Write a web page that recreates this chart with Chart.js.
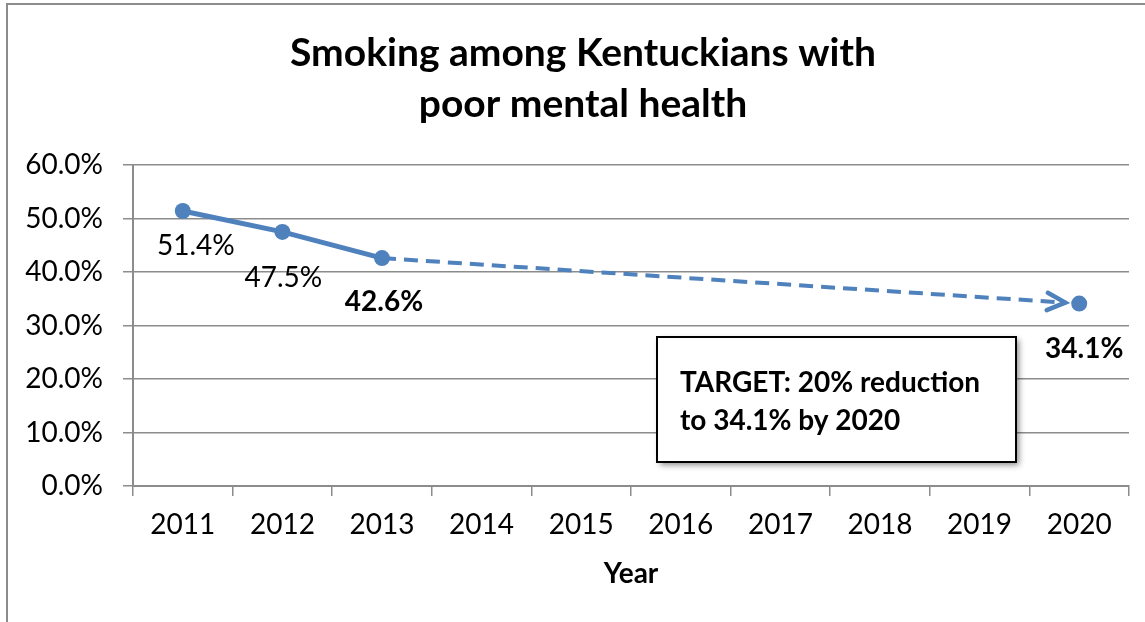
<!DOCTYPE html>
<html>
<head>
<meta charset="utf-8">
<script src="https://cdn.jsdelivr.net/npm/chart.js@4"></script>
<style>
  html, body { margin: 0; padding: 0; background: #fff; }
  canvas { display: block; }
</style>
</head>
<body>
<canvas id="smokingChart" width="1145" height="622"></canvas>
<script>
// data
const years = ['2011', '2012', '2013', '2014', '2015', '2016', '2017', '2018', '2019', '2020'];
const observed = [51.4, 47.5, 42.6, null, null, null, null, null, null, null];
const projected = [null, null, 42.6, null, null, null, null, null, null, 34.1];
const yTicks = [0, 10, 20, 30, 40, 50, 60];
const titleLines = ['Smoking among Kentuckians with', 'poor mental health'];

const blue = '#4F81BD';
const font = 'Lato';

// where each value label sits relative to its point [dx, dy]
const labelOffsets = {
    observed: [[13, 35], [1, 46], [2, 44]],
    projected: { 9: [5, 45] }
};

// chart frame, white background and the two-line title
const framePlugin = {
    id: 'frame',
    beforeDraw(chart) {
        const ctx = chart.ctx;
        ctx.save();
        ctx.fillStyle = '#fff';
        ctx.fillRect(0, 0, chart.width, chart.height);
        ctx.strokeStyle = '#8c8c8c';
        ctx.lineWidth = 2;
        ctx.strokeRect(7, 4, 1400, 900);
        ctx.fillStyle = '#000';
        ctx.font = 'bold 39px ' + font;
        ctx.textAlign = 'center';
        ctx.textBaseline = 'middle';
        titleLines.forEach((t, i) => ctx.fillText(t, 583, 53 + i * 51));
        ctx.restore();
    }
};

// value labels, arrow head on the dashed projection, target note
const extrasPlugin = {
    id: 'extras',
    afterDatasetsDraw(chart) {
        const ctx = chart.ctx;
        const obsMeta = chart.getDatasetMeta(0);
        const projMeta = chart.getDatasetMeta(1);

        ctx.save();
        ctx.fillStyle = '#000';
        ctx.textAlign = 'center';
        ctx.textBaseline = 'middle';
        observed.forEach((v, i) => {
            if (v === null) return;
            const pt = obsMeta.data[i];
            const off = labelOffsets.observed[i];
            ctx.font = (i === 2 ? 'bold ' : '') + '28px ' + font;
            ctx.fillText(v.toFixed(1) + '%', pt.x + off[0], pt.y + off[1]);
        });
        const last = projected.length - 1;
        const tgt = projMeta.data[last];
        ctx.font = 'bold 28px ' + font;
        ctx.fillText(projected[last].toFixed(1) + '%', tgt.x + labelOffsets.projected[last][0], tgt.y + labelOffsets.projected[last][1]);

        // arrow head
        const from = projMeta.data[2];
        const ang = Math.atan2(tgt.y - from.y, tgt.x - from.x);
        const tipX = tgt.x - 14 * Math.cos(ang);
        const tipY = tgt.y - 14 * Math.sin(ang);
        ctx.strokeStyle = blue;
        ctx.lineWidth = 4.5;
        ctx.lineCap = 'round';
        ctx.lineJoin = 'miter';
        ctx.beginPath();
        ctx.moveTo(tipX - 20 * Math.cos(ang - 0.45), tipY - 20 * Math.sin(ang - 0.45));
        ctx.lineTo(tipX, tipY);
        ctx.lineTo(tipX - 20 * Math.cos(ang + 0.45), tipY - 20 * Math.sin(ang + 0.45));
        ctx.stroke();
        ctx.restore();

        // target note box
        ctx.save();
        ctx.shadowColor = 'rgba(0,0,0,0.45)';
        ctx.shadowBlur = 6;
        ctx.shadowOffsetX = 3;
        ctx.shadowOffsetY = 3;
        ctx.fillStyle = '#fff';
        ctx.fillRect(657, 337, 359, 125);
        ctx.restore();
        ctx.save();
        ctx.strokeStyle = '#000';
        ctx.lineWidth = 2;
        ctx.strokeRect(657, 337, 359, 125);
        ctx.fillStyle = '#000';
        ctx.font = 'bold 28px ' + font;
        ctx.textAlign = 'left';
        ctx.textBaseline = 'middle';
        ctx.fillText('TARGET: 20% reduction', 680, 383);
        ctx.fillText('to 34.1% by 2020', 680, 421);
        ctx.restore();
    }
};

const ctx = document.getElementById('smokingChart').getContext('2d');
new Chart(ctx, {
    type: 'line',
    data: {
        labels: years,
        datasets: [
            {
                label: 'Observed',
                data: observed,
                borderColor: blue,
                backgroundColor: blue,
                borderWidth: 5,
                pointRadius: 8,
                pointBackgroundColor: blue,
                pointBorderWidth: 0,
                tension: 0
            },
            {
                label: 'Projection',
                data: projected,
                spanGaps: true,
                borderColor: blue,
                borderWidth: 4,
                borderDash: [14, 8],
                pointRadius: c => (c.dataIndex === projected.length - 1 ? 10.5 : 0),
                pointBackgroundColor: blue,
                pointBorderColor: '#fff',
                pointBorderWidth: 5,
                tension: 0
            }
        ]
    },
    options: {
        responsive: false,
        animation: false,
        devicePixelRatio: 1,
        layout: { padding: { left: 20, right: 16, top: 165, bottom: 0 } },
        plugins: {
            legend: { display: false },
            tooltip: { enabled: false },
            title: { display: false }
        },
        scales: {
            x: {
                offset: true,
                grid: { offset: true, drawOnChartArea: false, tickLength: 10, color: '#8c8c8c', lineWidth: 1.5 },
                border: { color: '#8c8c8c', width: 2 },
                ticks: { color: '#000', font: { family: font, size: 28 }, padding: 12, maxRotation: 0, autoSkip: false },
                title: {
                    display: true,
                    text: 'Year',
                    color: '#000',
                    font: { family: font, size: 28, weight: 'bold' },
                    padding: { top: 0, bottom: 31 }
                },
                afterFit: s => { s.height = 136; }
            },
            y: {
                min: yTicks[0],
                max: yTicks[yTicks.length - 1],
                afterBuildTicks: s => { s.ticks = yTicks.map(v => ({ value: v })); },
                grid: { color: '#8c8c8c', lineWidth: 1.5, tickLength: 10 },
                border: { color: '#8c8c8c', width: 2 },
                ticks: {
                    color: '#000',
                    font: { family: font, size: 28 },
                    padding: 20,
                    callback: v => v.toFixed(1) + '%'
                },
                afterFit: s => { s.width = 113; }
            }
        }
    },
    plugins: [framePlugin, extrasPlugin]
});
</script>
</body>
</html>
